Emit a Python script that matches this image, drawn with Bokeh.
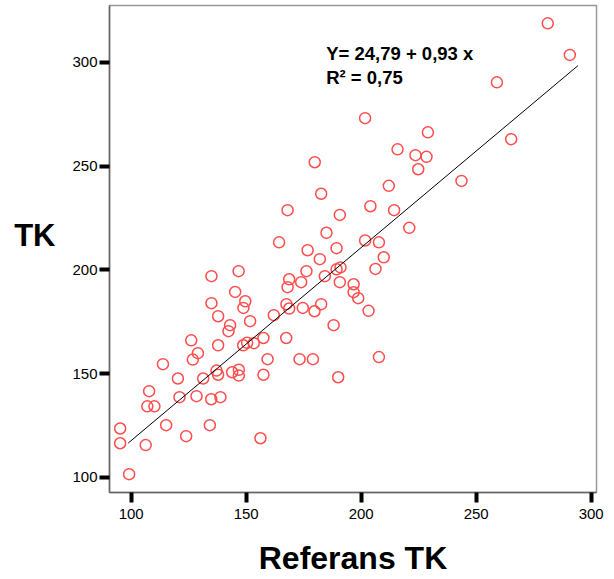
from bokeh.plotting import figure
from bokeh.models import FixedTicker, Label, Range1d
from bokeh.embed import file_html
from bokeh.resources import INLINE

referans_tk = [281.1, 290.7, 259.0, 201.7, 229.0, 265.2, 215.8, 223.6, 228.4, 179.8,
               224.8, 243.6, 212.0, 182.6, 168.0, 204.0, 214.3, 190.7, 220.9, 184.9,
               164.3, 201.7, 207.7, 176.7, 189.3, 182.0, 209.8, 146.7, 134.9, 176.2,
               189.3, 191.0, 206.2, 168.7, 184.2, 173.9, 190.7, 168.0, 196.7, 145.2,
               196.7, 198.7, 134.9, 149.6, 148.8, 167.5, 168.7, 182.6, 174.6, 179.7,
               203.2, 137.8, 162.0, 151.7, 143.0, 188.0, 142.3, 126.1, 167.4, 157.5,
               137.8, 148.7, 150.4, 153.3, 129.0, 126.8, 159.3, 173.2, 179.0, 207.7,
               113.8, 120.3, 131.3, 137.1, 137.8, 143.9, 146.8, 146.8, 157.5, 190.0,
               107.8, 121.0, 128.4, 134.8, 138.8, 107.0, 110.1, 95.2, 115.2, 134.2,
               95.2, 106.3, 123.9, 156.2, 99.1]
tk = [318.8, 303.6, 290.4, 273.1, 266.3, 263.0, 258.1, 255.3, 254.5, 251.9,
      248.5, 242.9, 240.5, 236.7, 228.8, 230.7, 228.8, 226.5, 220.3, 217.9,
      213.3, 214.2, 213.3, 209.5, 210.5, 205.2, 206.1, 199.4, 197.0, 199.4,
      200.3, 201.2, 200.5, 195.5, 197.0, 194.1, 194.1, 191.7, 193.1, 189.4,
      189.3, 186.4, 184.0, 184.9, 181.7, 183.5, 181.4, 183.5, 181.7, 180.1,
      180.3, 177.7, 178.2, 175.3, 173.4, 173.4, 170.5, 166.1, 167.2, 167.2,
      163.7, 163.7, 164.9, 164.7, 159.9, 156.8, 157.0, 157.0, 157.0, 158.0,
      154.6, 147.7, 147.7, 151.5, 149.5, 150.7, 151.9, 149.1, 149.5, 148.3,
      141.6, 138.7, 139.2, 137.7, 138.7, 134.3, 134.3, 123.6, 125.2, 125.2,
      116.5, 115.6, 119.9, 118.9, 101.6]

intercept = 24.79
slope = 0.93
r_squared = 0.75
fit_x = [98.7, 294.2]
fit_y = [intercept + slope * v for v in fit_x]

x_ticks = [100, 150, 200, 250, 300]
y_ticks = [100, 150, 200, 250, 300]

FONT = "Liberation Sans"

p = figure(width=606, height=578, output_backend="svg", toolbar_location=None,
           x_range=Range1d(90.57, 302.3), y_range=Range1d(92.77, 327.4),
           min_border_left=109, min_border_right=10, min_border_top=5,
           min_border_bottom=86)
p.background_fill_color = "white"
p.border_fill_color = "white"
p.outline_line_color = "#999999"
p.outline_line_width = 1.5
p.xgrid.visible = False
p.ygrid.visible = False

p.scatter(referans_tk, tk, marker="circle", size=11, fill_color=None,
          line_color="#ff4d4d", line_width=1.5)
p.line(fit_x, fit_y, line_color="black", line_width=1)

for ax, ticks in ((p.xaxis[0], x_ticks), (p.yaxis[0], y_ticks)):
    ax.ticker = FixedTicker(ticks=ticks)
    ax.minor_tick_line_color = None
    ax.major_tick_in = 0
    ax.major_tick_out = 10
    ax.major_tick_line_width = 4
    ax.major_tick_line_color = "black"
    ax.axis_line_color = "#666666"
    ax.axis_line_width = 1.5
    ax.major_label_text_font = FONT
    ax.major_label_text_font_size = "15px"
    ax.major_label_text_color = "black"

p.xaxis.major_label_standoff = 6
p.yaxis.major_label_standoff = 2
p.xaxis.axis_label = "Referans TK"
p.xaxis.axis_label_text_font = FONT
p.xaxis.axis_label_text_font_size = "32px"
p.xaxis.axis_label_text_font_style = "bold"
p.xaxis.axis_label_text_color = "black"
p.xaxis.axis_label_standoff = 18

p.yaxis.axis_label = "TK\n\u00a0"
p.yaxis.axis_label_orientation = "horizontal"
p.yaxis.axis_label_text_font = FONT
p.yaxis.axis_label_text_font_size = "31px"
p.yaxis.axis_label_text_font_style = "bold"
p.yaxis.axis_label_text_color = "black"
p.yaxis.axis_label_text_line_height = 0.8
p.yaxis.axis_label_standoff = 14

p.add_layout(Label(x=216.7, y=438.7, x_units="screen", y_units="screen",
                   text="Y= %s + %s x" % (f"{intercept:.2f}".replace(".", ","),
                                            f"{slope:.2f}".replace(".", ",")),
                   text_font=FONT, text_font_size="18.5px", text_font_style="bold",
                   text_align="left", text_baseline="alphabetic", text_color="black"))
p.add_layout(Label(x=216.7, y=415.3, x_units="screen", y_units="screen",
                   text="R\u00b2 = %s" % f"{r_squared:.2f}".replace(".", ","),
                   text_font=FONT, text_font_size="18.5px", text_font_style="bold",
                   text_align="left", text_baseline="alphabetic", text_color="black"))

open("out.html", "w").write(file_html(p, INLINE))
